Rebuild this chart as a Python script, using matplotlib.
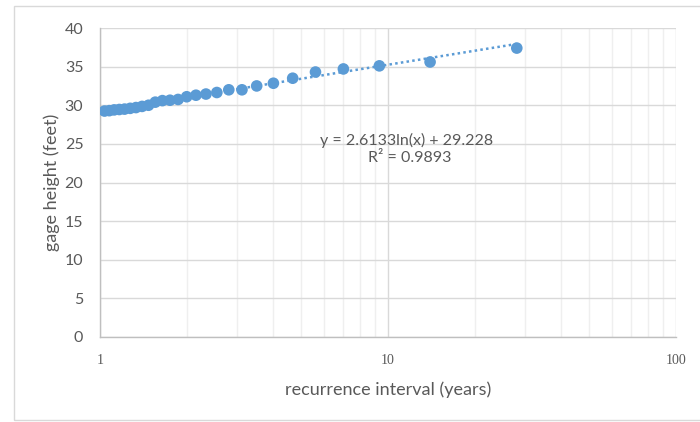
"""Gage height vs. recurrence interval with a logarithmic trendline."""
import matplotlib.pyplot as plt
import numpy as np
from matplotlib.patches import Rectangle
from matplotlib.ticker import FixedLocator, LogLocator, NullFormatter

# annual peaks ranked, Weibull recurrence interval (years)
recurrence = [1.037, 1.077, 1.12, 1.167, 1.217, 1.273, 1.333, 1.4, 1.474,
              1.556, 1.647, 1.75, 1.867, 2.0, 2.154, 2.333, 2.545, 2.8,
              3.111, 3.5, 4.0, 4.667, 5.6, 7.0, 9.333, 14.0, 28.0]
gage_height = [29.25, 29.3, 29.4, 29.45, 29.5, 29.6, 29.7, 29.85, 30.0,
               30.4, 30.6, 30.65, 30.75, 31.1, 31.3, 31.45, 31.65, 32.0,
               32.0, 32.5, 32.85, 33.5, 34.3, 34.7, 35.1, 35.6, 37.4]

# fitted trendline y = a ln(x) + b
fit_a = 2.6133
fit_b = 29.228
fit_r2 = 0.9893

BLUE = "#5b9bd5"
GRAY_TEXT = "#595959"
FONT = ["Lato", "DejaVu Sans"]


def main():
    fig = plt.figure(figsize=(7, 4.22), dpi=100)
    # chart area border
    fig.patches.append(Rectangle((14 / 700, 2 / 422), 0.99, 1 - 8 / 422,
                                 transform=fig.transFigure, fill=False,
                                 edgecolor="#d9d9d9", linewidth=1.0))
    ax = fig.add_axes([100 / 700, 1 - 337 / 422, 576 / 700, 309 / 422])

    ax.set_xscale("log")
    ax.set_xlim(1, 100)
    ax.set_ylim(0, 40)
    ax.set_yticks(np.arange(0, 41, 5))
    ax.xaxis.set_major_locator(FixedLocator([1, 10, 100]))
    ax.xaxis.set_minor_locator(LogLocator(base=10, subs=np.arange(2, 10)))
    ax.xaxis.set_minor_formatter(NullFormatter())
    ax.set_xticklabels(["1", "10", "100"])

    ax.grid(True, which="major", color="#d9d9d9", linewidth=1.0)
    ax.grid(True, which="minor", axis="x", color="#efefef", linewidth=1.0)
    ax.set_axisbelow(True)
    for side in ("top", "right"):
        ax.spines[side].set_visible(False)
    for side in ("left", "bottom"):
        ax.spines[side].set_color("#bfbfbf")
        ax.spines[side].set_linewidth(1.0)
    ax.tick_params(which="both", length=0)
    ax.tick_params(axis="y", pad=12, labelsize=11.5, labelcolor=GRAY_TEXT)
    ax.tick_params(axis="x", pad=12, labelsize=10, labelcolor=GRAY_TEXT)
    for lab in ax.get_yticklabels():
        lab.set_family(FONT)
    for lab in ax.get_xticklabels():
        lab.set_family(["Liberation Serif", "DejaVu Serif"])

    # trendline
    xs = np.logspace(0, np.log10(max(recurrence)), 200)
    ax.plot(xs, fit_a * np.log(xs) + fit_b, color=BLUE, linewidth=1.8,
            linestyle=(0, (1, 1.3)), zorder=2)
    ax.scatter(recurrence, gage_height, s=70, color=BLUE, edgecolors="none",
               zorder=3)

    ax.text(11.6, 25.5, f"y = {fit_a}ln(x) + {fit_b}", ha="center",
            va="center", fontsize=11.5, color=GRAY_TEXT, family=FONT)
    ax.text(11.9, 23.2, f"R² = {fit_r2}", ha="center", va="center",
            fontsize=11.5, color=GRAY_TEXT, family=FONT)

    ax.set_xlabel("recurrence interval (years)", fontsize=13,
                  color=GRAY_TEXT, family=FONT)
    ax.xaxis.set_label_coords(0.5, -44 / 309)
    ax.set_ylabel("gage height (feet)", fontsize=13, color=GRAY_TEXT,
                  family=FONT)
    ax.yaxis.set_label_coords(-40 / 576, 0.5)

    fig.savefig("out.png", dpi=100)


if __name__ == "__main__":
    main()
